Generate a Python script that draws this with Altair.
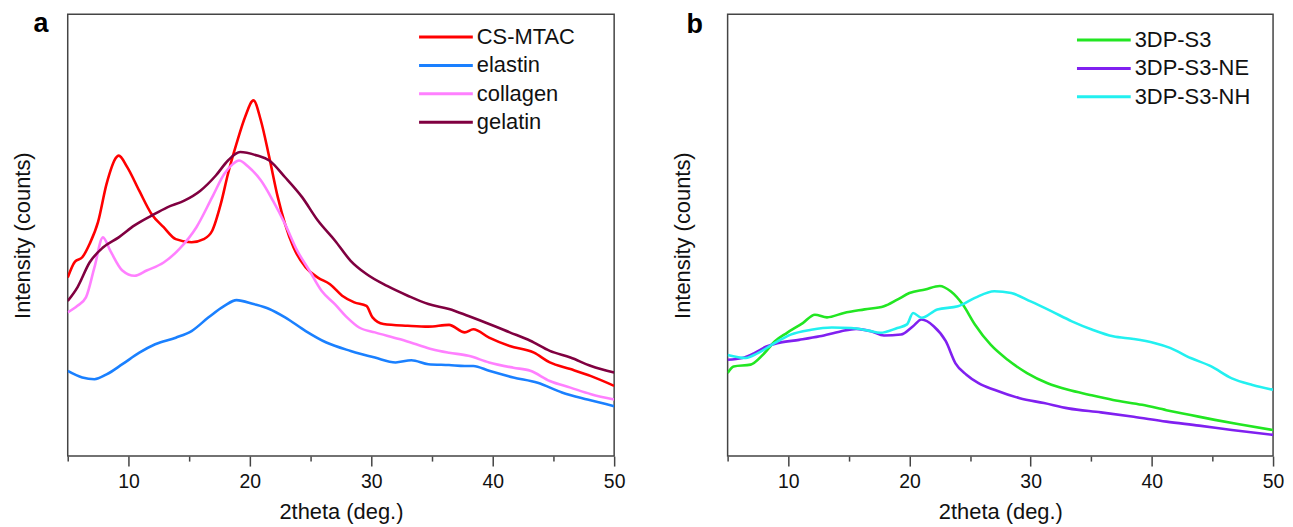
import altair as alt
import pandas as pd

FONT = "Liberation Sans"

# ---------------- Panel a ----------------
cs_x = [5.0, 5.6, 6.2, 6.8, 7.5, 8.2, 9.0, 9.2, 9.9, 10.9, 11.9, 12.9, 13.9, 15.2, 16.2, 16.9, 17.6, 18.2, 18.9, 19.6,
        20.3, 20.9, 21.6, 22.3, 22.9, 23.6, 24.6, 25.6, 26.6, 27.6, 28.6, 29.6, 30.1, 31.0, 33.0, 34.7, 36.4, 37.7, 38.4, 39.7,
        41.4, 43.4, 44.7, 46.4, 48.1, 50.0]
cs_y = [40.4, 44.0, 45.0, 48.0, 53.0, 61.6, 67.6, 68.0, 65.4, 60.0, 54.8, 51.8, 49.1, 48.4, 49.1, 51.0, 57.0, 63.9, 70.7, 76.7,
        80.5, 76.0, 67.6, 58.6, 52.5, 47.2, 42.7, 40.4, 38.9, 36.3, 34.8, 34.0, 31.4, 29.9, 29.5, 29.3, 29.7, 28.0, 28.7, 26.8,
        24.9, 23.4, 21.2, 19.7, 18.1, 15.9]

el_x = [5.0, 6.2, 7.2, 8.2, 9.5, 10.9, 12.2, 13.9, 15.2, 16.6, 17.9, 18.9, 20.3, 21.6, 22.9, 24.6, 26.3, 28.3, 30.3, 32.0,
        33.3, 34.7, 36.4, 37.7, 38.4, 39.7, 41.7, 43.7, 45.7, 47.8, 50.0]
el_y = [19.3, 17.8, 17.4, 18.5, 20.8, 23.4, 25.3, 26.8, 28.3, 31.4, 34.0, 35.3, 34.4, 33.3, 31.4, 28.3, 25.7, 23.8, 22.3, 21.2,
        21.7, 20.8, 20.6, 20.4, 20.4, 19.3, 17.8, 16.6, 14.4, 12.8, 11.3]

co_x = [5.0, 5.8, 6.5, 7.2, 7.9, 8.5, 9.5, 10.5, 11.5, 12.9, 14.2, 15.6, 16.9, 17.9, 18.6, 19.1, 19.9, 20.9, 21.9, 22.9,
        23.9, 24.9, 25.9, 27.0, 28.0, 29.0, 30.3, 32.3, 33.7, 35.0, 36.4, 38.0, 39.7, 41.7, 43.1, 44.7, 46.4, 48.1, 50.0]
co_y = [32.5, 34.0, 35.9, 42.7, 49.5, 46.5, 42.0, 40.8, 42.0, 43.8, 46.9, 51.8, 58.6, 63.9, 66.1, 66.9, 65.4, 62.4, 57.8, 52.5,
        46.5, 42.0, 37.4, 34.4, 31.4, 29.1, 28.0, 26.5, 25.3, 24.2, 23.4, 22.7, 21.2, 20.0, 19.3, 17.0, 15.5, 14.0, 12.8]

ge_x = [5.0, 5.8, 6.8, 7.9, 9.2, 10.5, 11.9, 13.2, 14.6, 15.9, 17.2, 18.2, 19.2, 20.6, 21.6, 22.9, 24.3, 25.6, 27.0, 28.3,
        29.6, 31.3, 33.0, 34.7, 36.4, 38.0, 39.7, 41.4, 43.1, 44.7, 46.4, 48.1, 50.0]
ge_y = [35.1, 38.2, 43.8, 47.2, 49.5, 52.2, 54.4, 56.3, 57.8, 60.0, 63.5, 66.9, 68.8, 68.0, 66.9, 63.1, 58.6, 53.3, 48.8, 44.2,
        41.2, 38.5, 36.3, 34.4, 33.3, 31.7, 29.9, 28.0, 26.1, 23.8, 22.3, 20.4, 18.9]

names_a = ["CS-MTAC", "elastin", "collagen", "gelatin"]
colors_a = ["#ff0000", "#1a80ff", "#ff80ff", "#800040"]

# ---------------- Panel b ----------------
g_x = [5.0, 5.5, 6.9, 7.9, 8.9, 9.9, 11.2, 12.2, 13.2, 14.6, 16.3, 17.9, 19.0, 20.0, 21.3, 22.5, 23.4, 24.4, 25.4, 26.7,
       28.1, 29.7, 31.4, 33.1, 34.8, 36.8, 39.2, 41.2, 43.2, 45.2, 47.2, 50.0]
g_y = [18.8, 20.3, 20.7, 22.9, 26.0, 27.9, 30.1, 32.0, 31.4, 32.4, 33.2, 33.9, 35.4, 36.9, 37.7, 38.5, 37.3, 34.3, 29.8, 25.2,
       21.8, 18.8, 16.5, 15.0, 13.9, 12.7, 11.6, 10.4, 9.3, 8.2, 7.2, 5.9]

ne_x = [5.0, 6.2, 7.2, 8.2, 9.2, 10.9, 12.6, 14.3, 15.6, 16.9, 17.9, 19.3, 20.3, 21.0, 22.0, 23.0, 23.8, 24.7, 25.7, 27.0,
        29.1, 31.1, 33.1, 35.8, 38.5, 41.2, 43.9, 46.6, 50.0]
ne_y = [21.8, 22.2, 23.3, 24.8, 25.6, 26.3, 27.1, 28.2, 28.8, 28.2, 27.3, 27.5, 29.4, 30.9, 29.4, 26.0, 21.0, 18.4, 16.5, 15.0,
        13.1, 12.0, 10.8, 9.9, 8.9, 7.8, 6.9, 5.9, 4.8]

nh_x = [5.0, 6.5, 7.5, 8.9, 10.2, 11.9, 13.6, 15.2, 16.6, 17.6, 19.0, 19.8, 20.3, 21.0, 22.3, 24.0, 25.4, 27.0, 28.4, 30.0,
        31.7, 33.4, 35.1, 36.8, 38.5, 40.2, 41.5, 43.2, 44.9, 46.6, 48.3, 50.0]
nh_y = [22.9, 22.2, 23.3, 25.6, 27.5, 28.6, 29.1, 29.0, 28.4, 27.9, 29.0, 29.8, 32.4, 31.3, 33.2, 33.9, 35.8, 37.3, 36.9, 35.0,
        32.8, 30.5, 28.6, 27.1, 26.5, 25.6, 24.5, 22.2, 20.3, 17.6, 16.1, 15.0]

names_b = ["3DP-S3", "3DP-S3-NE", "3DP-S3-NH"]
colors_b = ["#22e622", "#8020f0", "#22f0f0"]

x_ticks = [5, 10, 15, 20, 25, 30, 35, 40, 45, 50]


def make_df(names, xs, ys):
    frames = []
    for n, xv, yv in zip(names, xs, ys):
        frames.append(pd.DataFrame({"x": xv, "y": yv, "series": n}))
    return pd.concat(frames, ignore_index=True)


df_a = make_df(names_a, [cs_x, el_x, co_x, ge_x], [cs_y, el_y, co_y, ge_y])
df_b = make_df(names_b, [g_x, ne_x, nh_x], [g_y, ne_y, nh_y])


def panel(df, names, colors, letter, letter_x, letter_y, legend_x, legend_y, w):
    xaxis = alt.Axis(
        values=x_ticks,
        labelExpr="datum.value % 10 == 0 ? datum.label : ''",
        tickSize={"condition": {"test": "datum.value % 10 == 0", "value": 10}, "value": 5},
        grid=False, domain=False, tickColor="#444", tickWidth=1.5,
        labelFont=FONT, labelFontSize=19.5, labelColor="#111", labelPadding=7, labelFlush=False,
        title="2theta (deg.)", titleFont=FONT, titleFontSize=22, titleFontWeight="normal",
        titleColor="#111", titlePadding=10,
    )
    yaxis = alt.Axis(
        ticks=False, labels=False, grid=False, domain=False,
        title="Intensity (counts)", titleFont=FONT, titleFontSize=22, titleFontWeight="normal",
        titleColor="#111", titlePadding=33,
    )
    legend = alt.Legend(
        title=None, orient="none", legendX=legend_x, legendY=legend_y,
        symbolType="M-2,0H2", symbolSize=729, symbolStrokeWidth=3,
        labelFont=FONT, labelFontSize=22, labelColor="#111", labelOffset=16,
        rowPadding=2.5, padding=0,
    )
    lines = alt.Chart(df).mark_line(strokeWidth=2.6, interpolate="monotone", clip=True).encode(
        x=alt.X("x:Q", scale=alt.Scale(domain=[5, 50], nice=False, zero=False), axis=xaxis),
        y=alt.Y("y:Q", scale=alt.Scale(domain=[0, 100], nice=False, zero=False), axis=yaxis),
        color=alt.Color("series:N", scale=alt.Scale(domain=names, range=colors), legend=legend),
    )
    letter_df = pd.DataFrame({"t": [letter]})
    txt = alt.Chart(letter_df).mark_text(
        font=FONT, fontSize=27, fontWeight="bold", align="center", baseline="top", color="#000"
    ).encode(text="t:N", x=alt.value(letter_x), y=alt.value(letter_y))
    return alt.layer(lines, txt).properties(width=w, height=444)


pa = panel(df_a, names_a, colors_a, "a", -27, -3, 365, 8, 549)
pb = panel(df_b, names_b, colors_b, "b", -33, -2, 363, 11, 548)

chart = alt.hconcat(pa, pb, spacing=45).resolve_scale(color="independent").configure_view(
    stroke="#444", strokeWidth=1.5
).properties(
    padding={"left": 3, "top": 0, "right": 0, "bottom": 0}
)

chart.save("out.html", embed_options={"renderer": "svg", "actions": False})
